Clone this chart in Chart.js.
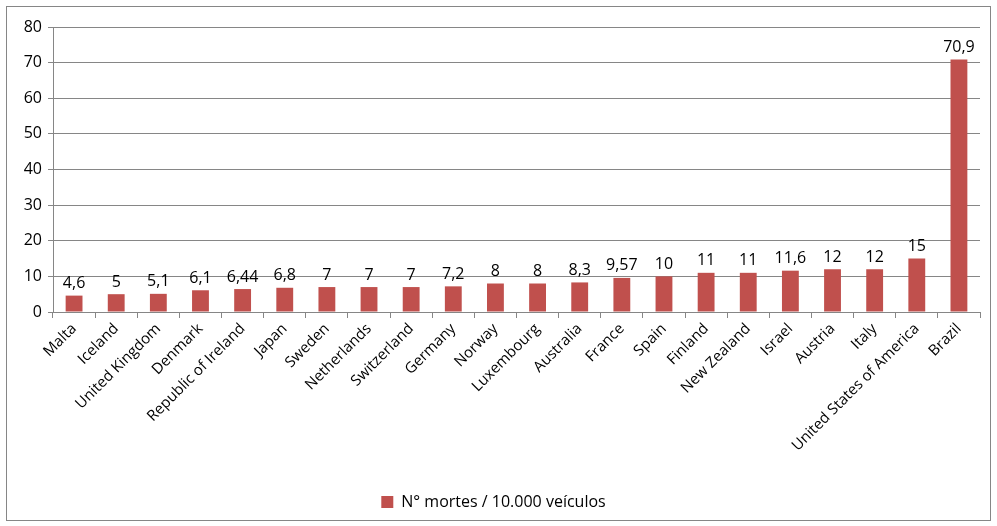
<!DOCTYPE html>
<html>
<head>
<meta charset="utf-8">
<script src="https://cdn.jsdelivr.net/npm/chart.js@4"></script>
<style>
  body { margin: 0; background: #fff; }
  #box { position: absolute; left: 6px; top: 6px; width: 983px; height: 513px; border: 1px solid #868686; }
  canvas { display: block; }
</style>
</head>
<body>
<div id="box"><canvas id="barChart" width="983" height="513"></canvas></div>
<script>
const countries = ["Malta", "Iceland", "United Kingdom", "Denmark", "Republic of Ireland", "Japan", "Sweden",
  "Netherlands", "Switzerland", "Germany", "Norway", "Luxembourg", "Australia", "France", "Spain", "Finland",
  "New Zealand", "Israel", "Austria", "Italy", "United States of America", "Brazil"];
const deaths = [4.6, 5, 5.1, 6.1, 6.44, 6.8, 7, 7, 7, 7.2, 8, 8, 8.3, 9.57, 10, 11, 11, 11.6, 12, 12, 15, 70.9];
const seriesName = "N° mortes / 10.000 veículos";
const yTicks = [0, 10, 20, 30, 40, 50, 60, 70, 80];

const FONT = "'Open Sans', Lato, sans-serif";

// value labels above each bar, decimal comma like the original
const valueLabels = {
  id: "valueLabels",
  afterDatasetsDraw(chart) {
    const ctx = chart.ctx;
    const meta = chart.getDatasetMeta(0);
    ctx.save();
    ctx.font = "16px " + FONT;
    ctx.fillStyle = "#000";
    ctx.textAlign = "center";
    ctx.textBaseline = "bottom";
    meta.data.forEach((bar, i) => {
      ctx.fillText(String(deaths[i]).replace(".", ","), bar.x, bar.y - 4);
    });
    ctx.restore();
  }
};

new Chart(document.getElementById("barChart"), {
  type: "bar",
  data: {
    labels: countries,
    datasets: [{
      label: seriesName,
      data: deaths,
      backgroundColor: "#C0504D",
      borderWidth: 0,
      categoryPercentage: 1,
      barPercentage: 0.4
    }]
  },
  plugins: [valueLabels],
  options: {
    responsive: false,
    animation: false,
    layout: { padding: { top: 20, right: 10, left: 0, bottom: 0 } },
    plugins: {
      legend: {
        position: "bottom",
        labels: { color: "#000", font: { family: FONT, size: 16 }, boxWidth: 12, boxHeight: 12, padding: 12 }
      },
      tooltip: { enabled: false }
    },
    scales: {
      x: {
        afterFit: s => { s.height = 170; },
        grid: { drawOnChartArea: false, drawTicks: true, tickLength: 6, color: "#868686" },
        border: { color: "#868686" },
        ticks: { color: "#000", font: { family: FONT, size: 15 }, minRotation: 45, maxRotation: 45, padding: 2 }
      },
      y: {
        min: 0,
        max: 80,
        afterFit: s => { s.width = 46; },
        afterBuildTicks: s => { s.ticks = yTicks.map(v => ({ value: v })); },
        grid: { color: "#868686", tickLength: 5 },
        border: { color: "#868686" },
        ticks: { color: "#000", font: { family: FONT, size: 16 }, padding: 6 }
      }
    }
  }
});
</script>
</body>
</html>
